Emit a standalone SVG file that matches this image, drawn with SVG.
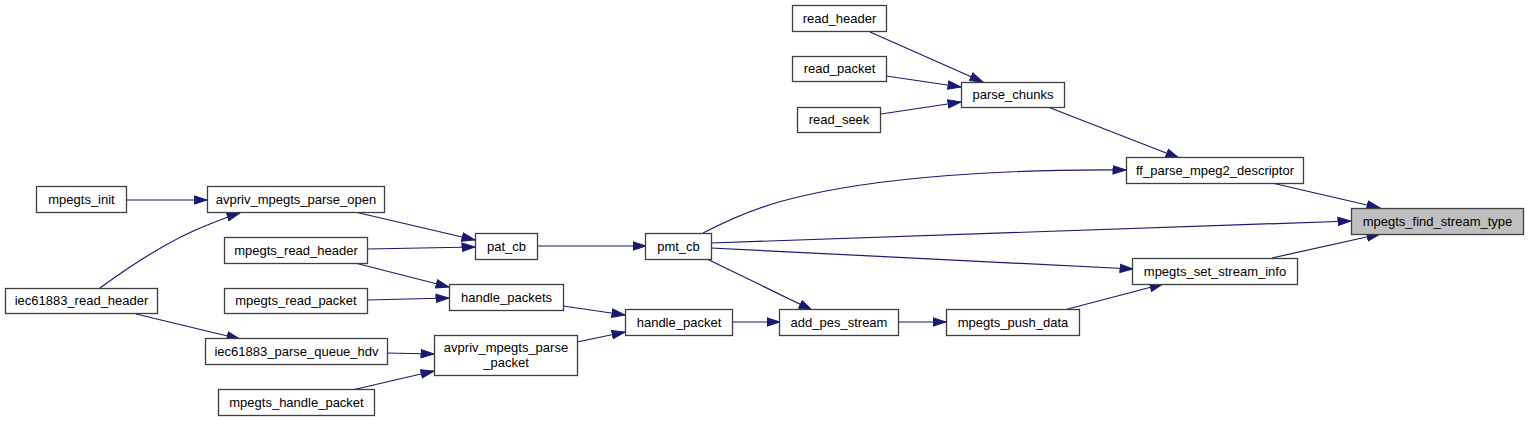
<svg xmlns="http://www.w3.org/2000/svg" width="1528" height="421" viewBox="0 0 1528 421">
<style>
.n rect{fill:#ffffff;stroke:#404040;stroke-width:1.3}
.n.hl rect{fill:#bfbfbf}
.n text{font-family:"Liberation Sans",Arial,sans-serif;font-size:13px;fill:#000;text-anchor:middle}
.e path{fill:none;stroke:#191970;stroke-width:1.2;marker-end:url(#ah)}
</style>
<defs>
<marker id="ah" markerUnits="userSpaceOnUse" markerWidth="15" markerHeight="11" refX="13.5" refY="5" orient="auto" viewBox="0 0 15 10">
<path d="M0.5,0.8 L13.5,5 L0.5,9.2 Z" fill="#191970" stroke="#191970" stroke-width="1"/>
</marker>
</defs>
<rect width="1528" height="421" fill="#ffffff"/>
<g id="connectors" class="e">
<path d="M870,32 L983,82"/>
<path d="M886,76 L961,87"/>
<path d="M881,114 L961,102"/>
<path d="M1048,107 L1179,158"/>
<path d="M703,233 C730,219 757,207 790,199 C880,176 1010,169 1126,170"/>
<path d="M1272,183 L1380,208"/>
<path d="M711,243 L1351,221"/>
<path d="M711,248 L1133,269"/>
<path d="M1272,258 L1380,234"/>
<path d="M1064,310 L1163,284"/>
<path d="M707,259 L812,310"/>
<path d="M898,322 L946,322"/>
<path d="M732,322 L780,322"/>
<path d="M563,306 L625,315"/>
<path d="M577,342 L625,332"/>
<path d="M537,246 L646,246"/>
<path d="M355,212 L475,240"/>
<path d="M367,249 L475,247"/>
<path d="M355,263 L449,287"/>
<path d="M367,300 L449,298"/>
<path d="M387,353 L434,354"/>
<path d="M352,390 L434,371"/>
<path d="M126,200 L207,200"/>
<path d="M100,288 C130,266 170,239 210,224 C220,220 230,216 240,213"/>
<path d="M136,314 L240,339"/>
</g>
<g id="mpegts_find_stream_type" class="n hl"><rect x="1351.5" y="208.5" width="172" height="26"/><text x="1437.5" y="226">mpegts_find_stream_type</text></g>
<g id="ff_parse_mpeg2_descriptor" class="n"><rect x="1126.5" y="157.5" width="177" height="26"/><text x="1215" y="175">ff_parse_mpeg2_descriptor</text></g>
<g id="mpegts_set_stream_info" class="n"><rect x="1132.5" y="258.5" width="165" height="26"/><text x="1215" y="276">mpegts_set_stream_info</text></g>
<g id="parse_chunks" class="n"><rect x="961.5" y="82.5" width="103" height="25"/><text x="1013" y="99">parse_chunks</text></g>
<g id="read_header" class="n"><rect x="792.5" y="5.5" width="94" height="26"/><text x="839.5" y="23">read_header</text></g>
<g id="read_packet" class="n"><rect x="792.5" y="56.5" width="94" height="25"/><text x="839.5" y="73">read_packet</text></g>
<g id="read_seek" class="n"><rect x="797.5" y="107.5" width="83" height="25"/><text x="839" y="124">read_seek</text></g>
<g id="pmt_cb" class="n"><rect x="645.5" y="233.5" width="66" height="26"/><text x="678.5" y="251">pmt_cb</text></g>
<g id="pat_cb" class="n"><rect x="475.5" y="233.5" width="62" height="26"/><text x="506.5" y="251">pat_cb</text></g>
<g id="handle_packets" class="n"><rect x="449.5" y="284.5" width="114" height="26"/><text x="506.5" y="302">handle_packets</text></g>
<g id="handle_packet" class="n"><rect x="625.5" y="309.5" width="107" height="26"/><text x="679" y="327">handle_packet</text></g>
<g id="avpriv_mpegts_parse_packet" class="n"><rect x="434.5" y="335.5" width="143" height="40"/><text x="506" y="352">avpriv_mpegts_parse</text><text x="506" y="367">_packet</text></g>
<g id="add_pes_stream" class="n"><rect x="779.5" y="309.5" width="119" height="26"/><text x="839" y="327">add_pes_stream</text></g>
<g id="mpegts_push_data" class="n"><rect x="946.5" y="309.5" width="133" height="26"/><text x="1013" y="327">mpegts_push_data</text></g>
<g id="mpegts_init" class="n"><rect x="36.5" y="186.5" width="90" height="26"/><text x="81.5" y="204">mpegts_init</text></g>
<g id="avpriv_mpegts_parse_open" class="n"><rect x="207.5" y="186.5" width="177" height="26"/><text x="296" y="204">avpriv_mpegts_parse_open</text></g>
<g id="mpegts_read_header" class="n"><rect x="224.5" y="237.5" width="143" height="26"/><text x="296" y="255">mpegts_read_header</text></g>
<g id="mpegts_read_packet" class="n"><rect x="224.5" y="288.5" width="143" height="25"/><text x="296" y="305">mpegts_read_packet</text></g>
<g id="iec61883_read_header" class="n"><rect x="5.5" y="288.5" width="152" height="25"/><text x="81.5" y="305">iec61883_read_header</text></g>
<g id="iec61883_parse_queue_hdv" class="n"><rect x="205.5" y="338.5" width="182" height="26"/><text x="296.5" y="356">iec61883_parse_queue_hdv</text></g>
<g id="mpegts_handle_packet" class="n"><rect x="218.5" y="389.5" width="156" height="26"/><text x="296.5" y="407">mpegts_handle_packet</text></g>
</svg>
